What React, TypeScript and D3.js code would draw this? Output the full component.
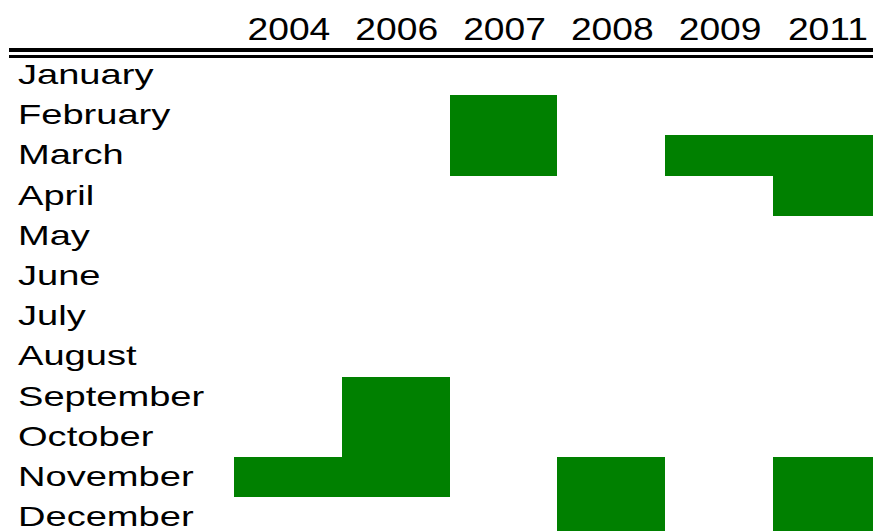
import React from 'react';
import * as d3 from 'd3';

const years = ['2004', '2006', '2007', '2008', '2009', '2011'];
const months = [
  'January', 'February', 'March', 'April', 'May', 'June',
  'July', 'August', 'September', 'October', 'November', 'December'
];
// months marked in each year
const marked2004 = ['November'];
const marked2006 = ['September', 'October', 'November'];
const marked2007 = ['February', 'March'];
const marked2008 = ['November', 'December'];
const marked2009 = ['March'];
const marked2011 = ['March', 'April', 'November', 'December'];

const markedByYear: [string, string[]][] = [
  ['2004', marked2004],
  ['2006', marked2006],
  ['2007', marked2007],
  ['2008', marked2008],
  ['2009', marked2009],
  ['2011', marked2011]
];

const W = 873;
const H = 531;

const App: React.FC = () => {
  // Layout
  const colStart = 234;
  const colStep = 107.8;
  const rowStart = 54.9;
  const rowStep = 40.2;

  const x = d3.scaleBand<string>()
    .domain(years)
    .range([colStart, colStart + colStep * years.length])
    .padding(0);

  const y = d3.scaleBand<string>()
    .domain(months)
    .range([rowStart, rowStart + rowStep * months.length])
    .padding(0);

  const cells = markedByYear.flatMap(([yr, ms]) => ms.map(m => {
    // snap to whole pixels so neighbouring cells join without seams
    const x0 = Math.round(x(yr)!);
    const x1 = Math.round(x(yr)! + x.bandwidth());
    const y0 = Math.round(y(m)!);
    const y1 = Math.round(y(m)! + y.bandwidth());
    return { key: `${yr}-${m}`, x0, x1, y0, y1 };
  }));

  const font = '"Liberation Sans", Arial, sans-serif';

  return (
    <svg
      width={W}
      height={H}
      style={{ position: 'absolute', left: 0, top: 0, background: '#fff' }}
      shapeRendering="crispEdges"
    >
      {/* Cells */}
      {cells.map(c => (
        <rect
          key={c.key}
          x={c.x0}
          y={c.y0}
          width={c.x1 - c.x0}
          height={c.y1 - c.y0}
          fill="#008000"
        />
      ))}

      {/* Double rule under header */}
      <rect x={9} y={48} width={W - 9} height={4} fill="#000" />
      <rect x={9} y={54.5} width={W - 9} height={3} fill="#000" />

      {/* Year header */}
      {years.map(yr => (
        <text
          key={yr}
          transform={`translate(${x(yr)! + x.bandwidth() / 2 + 1},39.5) scale(1.2,1)`}
          textAnchor="middle"
          fontFamily={font}
          fontSize={31}
          fill="#000"
          shapeRendering="auto"
        >
          {yr}
        </text>
      ))}

      {/* Month labels */}
      {months.map(m => (
        <text
          key={m}
          transform={`translate(18,${y(m)! + 29}) scale(1.36,1)`}
          fontFamily={font}
          fontSize={28}
          fill="#000"
          shapeRendering="auto"
        >
          {m}
        </text>
      ))}
    </svg>
  );
};

export default App;
